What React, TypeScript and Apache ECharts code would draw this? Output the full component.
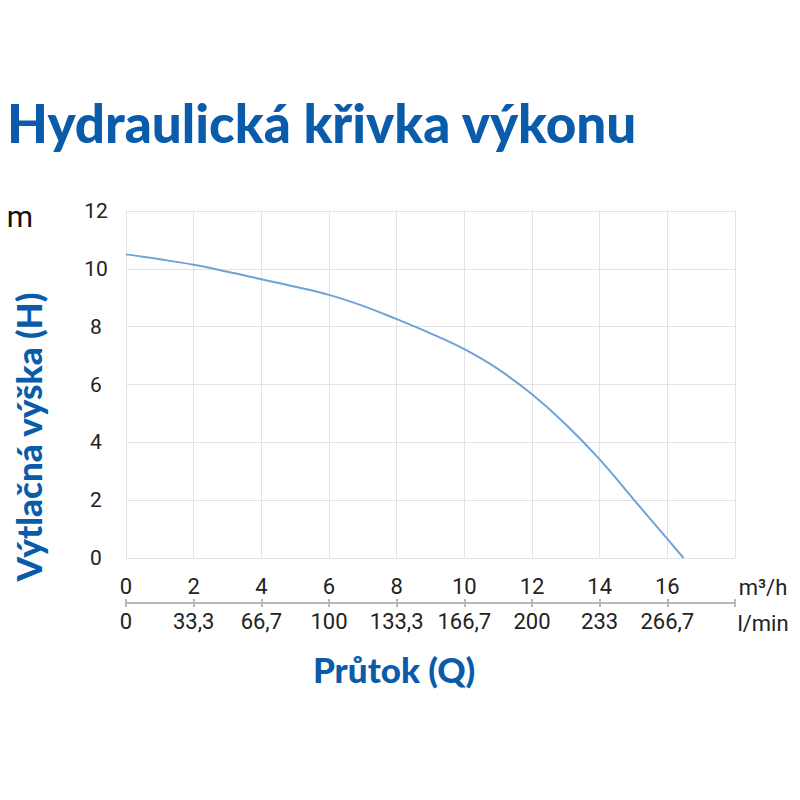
import React, { useEffect, useRef } from "react";
import * as echarts from "echarts";

const flowM3h = [0, 1, 2, 3, 4, 5, 6, 7, 8, 9, 10, 11, 12, 13, 14, 15, 16, 16.48];
const headM = [10.5, 10.33, 10.14, 9.9, 9.64, 9.38, 9.1, 8.72, 8.26, 7.77, 7.22, 6.53, 5.66, 4.62, 3.41, 2.03, 0.66, 0];
const yTicks = [0, 2, 4, 6, 8, 10, 12];
const m3hLabels = ["0", "2", "4", "6", "8", "10", "12", "14", "16", ""];
const lminLabels = ["0", "33,3", "66,7", "100", "133,3", "166,7", "200", "233", "266,7", ""];

const BLUE = "#0a5cab";
const FONT = "Roboto";

export default function App() {
  const ref = useRef<HTMLDivElement>(null);
  useEffect(() => {
    if (!ref.current) return;
    const chart = echarts.init(ref.current, undefined, { renderer: "svg" });
    const data = flowM3h.map((x, i) => [x, headM[i]]);
    const idx = (v: number) => Math.round(v / 2);
    chart.setOption({
      animation: false,
      backgroundColor: "#ffffff",
      grid: [
        { left: 126, right: 65, top: 211, bottom: 242, containLabel: false },
        { left: 126, right: 65, top: 603, height: 0, containLabel: false },
      ],
      xAxis: [
        {
          type: "value",
          gridIndex: 0,
          min: 0,
          max: 18,
          interval: 2,
          axisLine: { show: false },
          axisTick: { show: false },
          splitLine: { show: true, lineStyle: { color: "#e3e3e3", width: 1 } },
          axisLabel: {
            margin: 17,
            fontFamily: FONT,
            fontSize: 22,
            color: "#222",
            formatter: (v: number) => m3hLabels[idx(v)] ?? "",
          },
        },
        {
          type: "value",
          gridIndex: 1,
          position: "bottom",
          min: 0,
          max: 18,
          interval: 2,
          axisLine: { show: true, lineStyle: { color: "#b8b8b8", width: 2 } },
          axisTick: { show: true, length: 4, lineStyle: { color: "#b8b8b8", width: 2 } },
          splitLine: { show: false },
          axisLabel: {
            margin: 7,
            fontFamily: FONT,
            fontSize: 22,
            color: "#222",
            formatter: (v: number) => lminLabels[idx(v)] ?? "",
          },
        },
        {
          type: "value",
          gridIndex: 1,
          position: "top",
          min: 0,
          max: 18,
          interval: 2,
          axisLine: { show: false },
          axisTick: { show: true, length: 4, lineStyle: { color: "#b8b8b8", width: 2 } },
          splitLine: { show: false },
          axisLabel: { show: false },
        },
      ],
      yAxis: [
        {
          type: "value",
          gridIndex: 0,
          min: yTicks[0],
          max: yTicks[yTicks.length - 1],
          interval: 2,
          axisLine: { show: false },
          axisTick: { show: false },
          splitLine: { show: true, lineStyle: { color: "#e3e3e3", width: 1 } },
          axisLabel: {
            margin: 30,
            align: "center",
            fontFamily: FONT,
            fontSize: 21,
            color: "#222",
          },
        },
        {
          type: "value",
          gridIndex: 1,
          show: false,
          min: 0,
          max: 1,
        },
      ],
      series: [
        {
          type: "line",
          xAxisIndex: 0,
          yAxisIndex: 0,
          data,
          smooth: 0.4,
          showSymbol: false,
          lineStyle: { color: "#6fa3d8", width: 2 },
        },
      ],
      graphic: [
        {
          type: "text",
          left: 7,
          top: 96,
          style: {
            text: "Hydraulická křivka výkonu",
            font: "900 53px Lato",
            fill: BLUE,
          },
        },
        {
          type: "text",
          x: 20,
          y: 216,
          style: {
            text: "m",
            font: "30px Roboto",
            fill: "#111",
            align: "center",
            verticalAlign: "middle",
          },
        },
        {
          type: "text",
          x: 28,
          y: 437,
          rotation: Math.PI / 2,
          style: {
            text: "Výtlačná výška (H)",
            font: "900 35px Lato",
            fill: BLUE,
            align: "center",
            verticalAlign: "middle",
          },
        },
        {
          type: "text",
          x: 763,
          y: 587,
          style: {
            text: "m³/h",
            font: "22px Roboto",
            fill: "#222",
            align: "center",
            verticalAlign: "middle",
          },
        },
        {
          type: "text",
          x: 763,
          y: 623,
          style: {
            text: "l/min",
            font: "22px Roboto",
            fill: "#222",
            align: "center",
            verticalAlign: "middle",
          },
        },
        {
          type: "text",
          x: 394,
          y: 669,
          style: {
            text: "Průtok (Q)",
            font: "900 35px Lato",
            fill: BLUE,
            align: "center",
            verticalAlign: "middle",
          },
        },
      ],
    });
    return () => chart.dispose();
  }, []);
  return <div ref={ref} style={{ position: "absolute", left: 0, top: 0, width: 800, height: 800 }} />;
}
